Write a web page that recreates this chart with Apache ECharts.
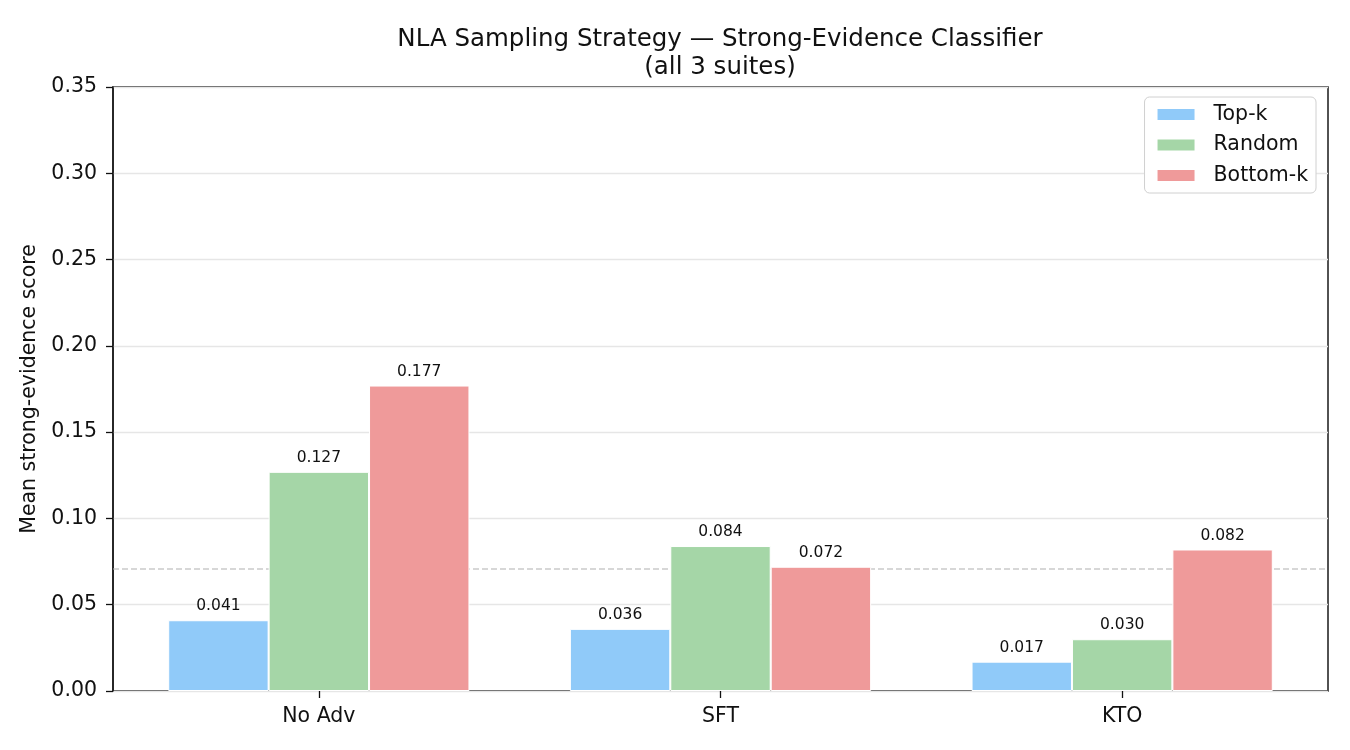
<!DOCTYPE html>
<html>
<head>
<meta charset="utf-8">
<script src="https://cdn.jsdelivr.net/npm/echarts@6/dist/echarts.min.js"></script>
<style>
    html, body { margin: 0; padding: 0; background: #fff; }
    #chart { width: 1350px; height: 750px; }
</style>
</head>
<body>
<div id="chart"></div>
<script>
    // 数据
    var categories = ['No Adv', 'SFT', 'KTO'];
    var topK = [0.041, 0.036, 0.017];
    var random = [0.127, 0.084, 0.030];
    var bottomK = [0.177, 0.072, 0.082];
    var baseline = 0.0707;
    var yTicks = [0, 0.05, 0.10, 0.15, 0.20, 0.25, 0.30, 0.35];

    var font = 'DejaVu Sans';
    var ink = '#111';

    function buildSeries(name, data, color) {
        return {
            name: name,
            type: 'bar',
            xAxisIndex: 1,
            yAxisIndex: 1,
            data: data,
            barWidth: '25%',
            barGap: '0%',
            itemStyle: {
                color: color,
                borderColor: '#fff',
                borderWidth: 1
            },
            label: {
                show: true,
                position: 'top',
                distance: 6,
                fontFamily: font,
                fontSize: 15.5,
                color: ink,
                formatter: function (p) { return p.value.toFixed(3); }
            }
        };
    }

    var series = [
        buildSeries('Top-k', topK, '#90CAF9'),
        buildSeries('Random', random, '#A5D6A7'),
        buildSeries('Bottom-k', bottomK, '#EF9A9A'),
        // 参考虚线，横跨整个绘图区
        {
            name: 'baseline',
            type: 'line',
            xAxisIndex: 0,
            yAxisIndex: 0,
            data: [[0, baseline], [1, baseline]],
            symbol: 'none',
            silent: true,
            z: 1,
            lineStyle: { color: '#b0b0b0', type: [6, 3], width: 1.2 }
        }
    ];

    var chart = echarts.init(document.getElementById('chart'));
    chart.setOption({
        animation: false,
        backgroundColor: '#fff',
        title: {
            text: 'NLA Sampling Strategy \u2014 Strong-Evidence Classifier\n(all 3 suites)',
            left: 715,
            top: 21,
            textAlign: 'center',
            textStyle: {
                fontFamily: font,
                fontSize: 24.5,
                fontWeight: 'normal',
                color: ink,
                lineHeight: 28
            }
        },
        legend: {
            data: ['Top-k', 'Random', 'Bottom-k'],
            orient: 'vertical',
            right: 34,
            top: 97,
            itemWidth: 39,
            itemHeight: 13,
            itemGap: 9.5,
            padding: [7, 8, 7, 11],
            borderColor: '#d0d0d0',
            borderWidth: 1,
            borderRadius: 5,
            backgroundColor: '#fff',
            textStyle: {
                fontFamily: font, fontSize: 20.5, color: ink,
                lineHeight: 21, padding: [0, 0, 0, 13]
            },
            icon: 'rect'
        },
        grid: [
            // 外框与 y 轴
            { left: 113, right: 22, top: 87, bottom: 59, show: true, borderColor: '#1a1a1a', borderWidth: 1.5 },
            // 柱子所在区域（两侧留出 matplotlib 的边距）
            { left: 118, right: 27, top: 87, bottom: 59 }
        ],
        xAxis: [
            { gridIndex: 0, type: 'value', min: 0, max: 1, show: false },
            {
                gridIndex: 1,
                type: 'category',
                data: categories,
                axisLine: { show: false },
                axisTick: { show: true, alignWithLabel: true, length: 7, lineStyle: { color: ink, width: 1.3 } },
                axisLabel: { fontFamily: font, fontSize: 20.5, color: ink, margin: 15 },
                splitLine: { show: false }
            }
        ],
        yAxis: [
            {
                gridIndex: 0,
                type: 'value',
                min: 0,
                max: 0.35,
                interval: 0.05,
                name: 'Mean strong-evidence score',
                nameLocation: 'middle',
                nameGap: 67,
                nameTextStyle: { fontFamily: font, fontSize: 20.5, color: ink },
                axisLine: { show: true, lineStyle: { color: '#1a1a1a', width: 1.5 } },
                axisTick: { show: true, length: 7, lineStyle: { color: ink, width: 1.3 } },
                axisLabel: {
                    fontFamily: font,
                    fontSize: 20.5,
                    color: ink,
                    margin: 16,
                    formatter: function (v) {
                        var t = yTicks.filter(function (x) { return Math.abs(x - v) < 1e-9; });
                        return t.length ? t[0].toFixed(2) : '';
                    }
                },
                splitLine: { show: true, lineStyle: { color: '#e6e6e6', width: 1.3 } }
            },
            { gridIndex: 1, type: 'value', min: 0, max: 0.35, show: false }
        ],
        series: series
    });
</script>
</body>
</html>
